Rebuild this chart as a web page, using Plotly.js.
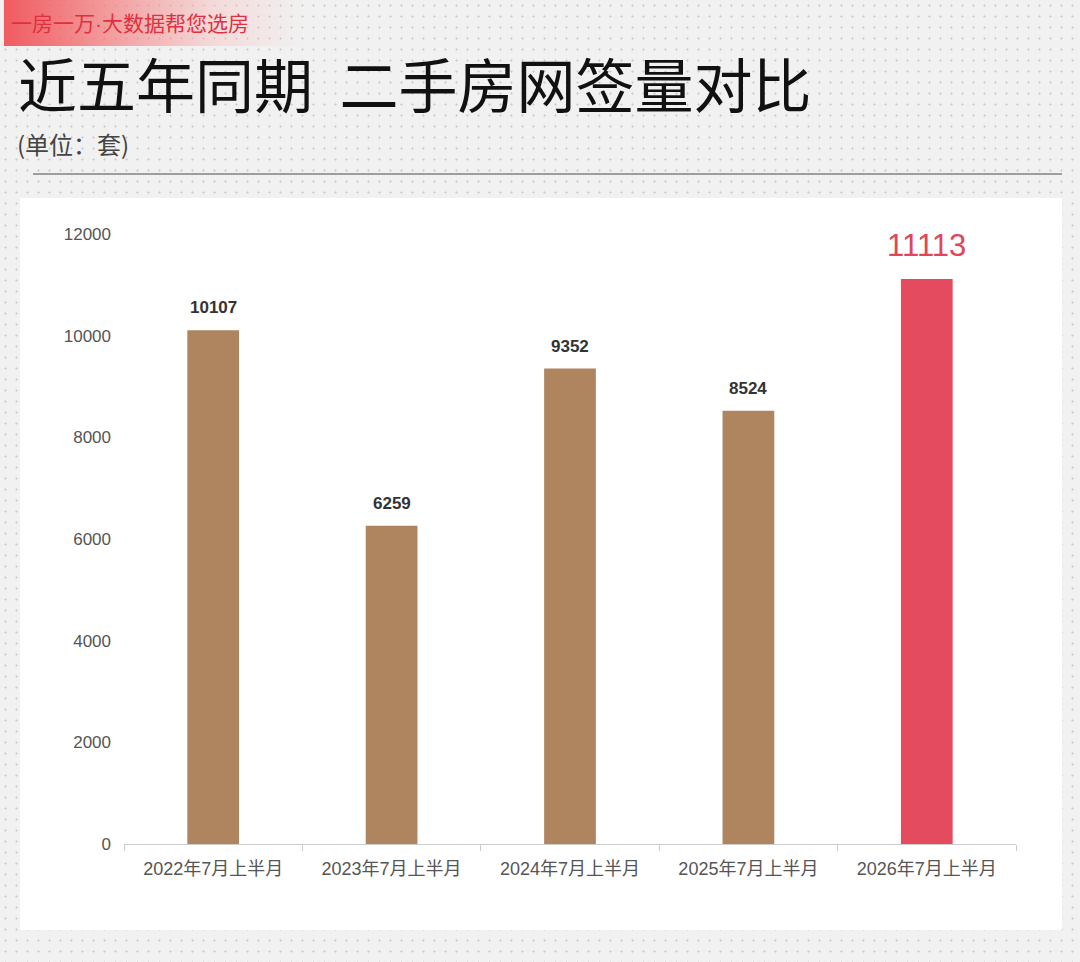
<!DOCTYPE html>
<html>
<head>
<meta charset="utf-8">
<script src="https://cdn.plot.ly/plotly-3.0.1.min.js"></script>
<style>
html,body{margin:0;padding:0;width:1080px;height:962px;overflow:hidden;}
body{background-color:#f1f1f1;background-image:radial-gradient(circle,#cccccc 0.9px,transparent 1.2px);background-size:11px 11px;position:relative;}
#banner{position:absolute;left:4px;top:0;width:300px;height:46px;background:linear-gradient(to right,rgba(240,78,84,0.92) 0%,rgba(243,120,122,0.7) 35%,rgba(248,190,190,0.45) 70%,rgba(255,255,255,0) 100%);}
#chart{position:absolute;left:0;top:0;width:1080px;height:962px;}
</style>
</head>
<body>
<div id="banner"></div>
<div id="chart"></div>
<script>
const categories = ["2022年7月上半月","2023年7月上半月","2024年7月上半月","2025年7月上半月","2026年7月上半月"];
const values = [10107, 6259, 9352, 8524, 11113];
const yTicks = [0, 2000, 4000, 6000, 8000, 10000, 12000];
const barColors = ["#af8560","#af8560","#af8560","#af8560","#e44b5e"];

const FONT = '"Noto Sans CJK SC","Noto Sans",sans-serif';
const NUMFONT = '"Liberation Sans","Noto Sans CJK SC",sans-serif';
const W = 1080, H = 962;
const L = 124, R = 64, T = 234, B = 118;
const pw = W - L - R, ph = H - T - B;
const px = x => (x - L) / pw;
const py = y => (H - B - y) / ph;

const trace = {
  type: 'bar',
  x: categories,
  y: values,
  marker: {color: barColors, line: {width: 0}},
  width: 0.29,
  hoverinfo: 'skip'
};

const labelAnns = values.map((v, i) => {
  const last = i === values.length - 1;
  return {
    x: categories[i], y: v, xref: 'x', yref: 'y',
    text: last ? String(v) : '<b>' + v + '</b>',
    showarrow: false,
    yanchor: 'bottom',
    yshift: last ? 14 : 11,
    font: {family: NUMFONT, size: last ? 31 : 17, color: last ? '#e0455a' : '#333333'}
  };
});

const layout = {
  width: W, height: H,
  margin: {l: L, r: R, t: T, b: B, pad: 0},
  paper_bgcolor: 'rgba(0,0,0,0)',
  plot_bgcolor: 'rgba(0,0,0,0)',
  showlegend: false,
  font: {family: FONT, color: '#555555'},
  xaxis: {
    type: 'category',
    showgrid: false,
    showline: true, linecolor: '#cccccc', linewidth: 1,
    ticks: 'outside', tickson: 'boundaries', ticklen: 6, tickcolor: '#cccccc',
    ticklabelstandoff: 8,
    tickfont: {family: NUMFONT, size: 18, color: '#555555'},
    zeroline: false,
    fixedrange: true
  },
  yaxis: {
    range: [0, 12000],
    tickvals: yTicks,
    ticktext: yTicks.map(String),
    showgrid: false, zeroline: false, showline: false,
    ticks: '',
    ticklabelstandoff: 12,
    tickfont: {family: NUMFONT, size: 17, color: '#555555'},
    fixedrange: true
  },
  shapes: [
    {type: 'rect', xref: 'paper', yref: 'paper', layer: 'below',
     x0: px(20), x1: px(1062), y0: py(930), y1: py(198),
     fillcolor: '#ffffff', line: {width: 0}},
    {type: 'line', xref: 'paper', yref: 'paper',
     x0: px(33), x1: px(1062), y0: py(174), y1: py(174),
     line: {color: '#4a4a4a', width: 1.2}}
  ],
  annotations: labelAnns.concat([
    {xref: 'paper', yref: 'paper', x: px(9), y: py(22), xanchor: 'left', yanchor: 'middle',
     text: '一房一万<span style="font-family:\'Liberation Sans\'">·</span>大数据帮您选房', showarrow: false,
     font: {family: FONT, size: 21, color: '#e0303f'}},
    {xref: 'paper', yref: 'paper', x: px(16), y: py(83), xanchor: 'left', yanchor: 'middle',
     text: '近五年同期&nbsp;&nbsp;二手房网签量对比', showarrow: false,
     font: {family: FONT, size: 59, color: '#111111'}},
    {xref: 'paper', yref: 'paper', x: px(15), y: py(143), xanchor: 'left', yanchor: 'middle',
     text: '(单位：套)', showarrow: false,
     font: {family: FONT, size: 24, color: '#444444'}}
  ])
};

Plotly.newPlot('chart', [trace], layout, {displayModeBar: false, staticPlot: true});
</script>
</body>
</html>
